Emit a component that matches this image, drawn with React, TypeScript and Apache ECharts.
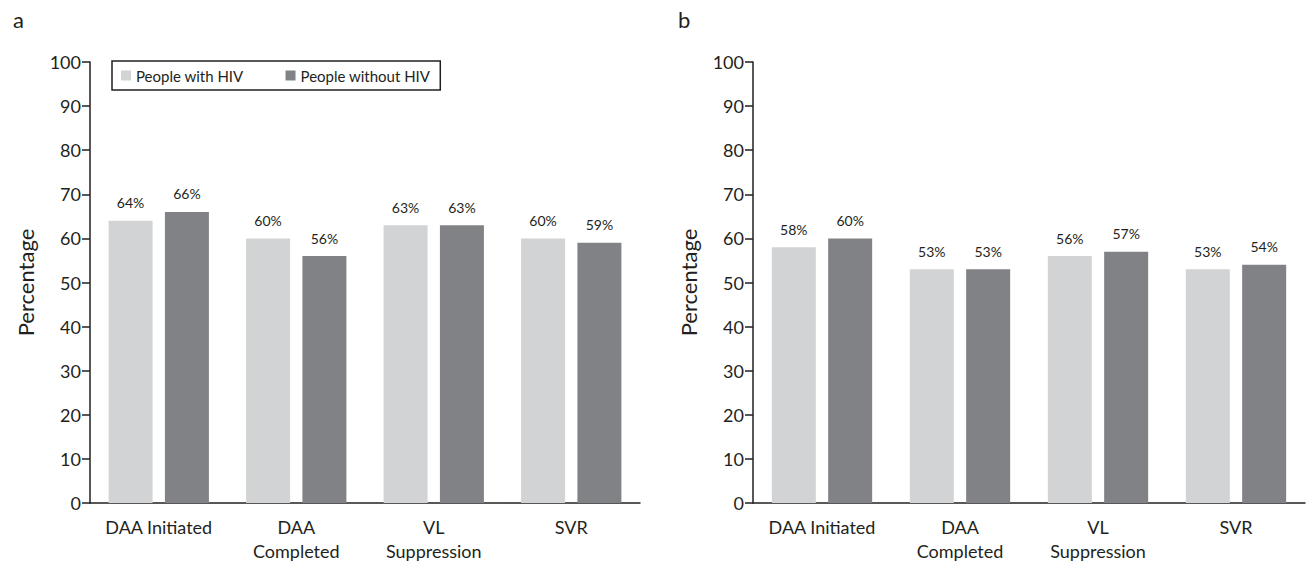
import React, { useEffect, useRef } from "react";
import * as echarts from "echarts";

const categories = ["DAA Initiated", "DAA\nCompleted", "VL\nSuppression", "SVR"];
const seriesNames = ["People with HIV", "People without HIV"];
const panelAWithHIV = [64, 60, 63, 60];
const panelAWithoutHIV = [66, 56, 63, 59];
const panelBWithHIV = [58, 53, 56, 53];
const panelBWithoutHIV = [60, 53, 57, 54];
const panelLetters = ["a", "b"];
const yAxisTitle = "Percentage";

const LIGHT = "#d1d3d4";
const DARK = "#808285";
const INK = "#231f20";
const FONT = "Lato";

export default function App() {
  const ref = useRef<HTMLDivElement>(null);
  useEffect(() => {
    if (!ref.current) return;
    const chart = echarts.init(ref.current, undefined, { renderer: "svg" });
    const grids = [
      { left: 90, top: 62, width: 550, height: 442 },
      { left: 753, top: 62, width: 552, height: 442 },
    ];
    const xAxes = grids.map((_, i) => ({
      type: "category" as const,
      gridIndex: i,
      data: categories,
      axisLine: { lineStyle: { color: INK, width: 1.5 } },
      axisTick: { show: false },
      axisLabel: { interval: 0, color: INK, fontSize: 18, fontFamily: FONT, margin: 12, lineHeight: 24 },
    }));
    const yAxes = grids.map((_, i) => ({
      type: "value" as const,
      gridIndex: i,
      min: 0,
      max: 100,
      interval: 10,
      name: yAxisTitle,
      nameLocation: "middle" as const,
      nameGap: 54,
      nameTextStyle: { color: INK, fontSize: 22, fontFamily: FONT },
      axisLine: { show: true, lineStyle: { color: INK, width: 1.5 } },
      axisTick: { show: true, length: 8, lineStyle: { color: INK, width: 1.5 } },
      axisLabel: { color: INK, fontSize: 18, fontFamily: FONT, margin: 9 },
      splitLine: { show: false },
    }));
    const mk = (name: string, data: number[], color: string, idx: number) => ({
      type: "bar" as const,
      name,
      data,
      xAxisIndex: idx,
      yAxisIndex: idx,
      barWidth: 44,
      barGap: "28%",
      itemStyle: { color },
      label: {
        show: true,
        position: "top" as const,
        distance: 11,
        formatter: "{c}%",
        color: INK,
        fontSize: 14,
        fontFamily: FONT,
      },
    });
    chart.setOption({
      animation: false,
      backgroundColor: "#ffffff",
      grid: grids,
      xAxis: xAxes,
      yAxis: yAxes,
      legend: {
        data: seriesNames,
        left: 112,
        top: 61,
        width: 340,
        borderColor: INK,
        borderWidth: 1.5,
        padding: [7, 10, 7, 9],
        itemWidth: 10,
        itemHeight: 10,
        itemGap: 42,
        icon: "rect",
        textStyle: { color: INK, fontSize: 15, fontFamily: FONT },
      },
      graphic: [
        { type: "text", left: 13, top: 8, style: { text: panelLetters[0], fontSize: 22, fontFamily: FONT, fill: INK } },
        { type: "text", left: 678, top: 8, style: { text: panelLetters[1], fontSize: 22, fontFamily: FONT, fill: INK } },
      ],
      series: [
        mk(seriesNames[0], panelAWithHIV, LIGHT, 0),
        mk(seriesNames[1], panelAWithoutHIV, DARK, 0),
        mk(seriesNames[0], panelBWithHIV, LIGHT, 1),
        mk(seriesNames[1], panelBWithoutHIV, DARK, 1),
      ],
    });
    return () => chart.dispose();
  }, []);
  return (
    <div
      ref={ref}
      style={{ position: "fixed", left: 0, top: 0, width: 1306, height: 563, background: "#fff" }}
    />
  );
}
